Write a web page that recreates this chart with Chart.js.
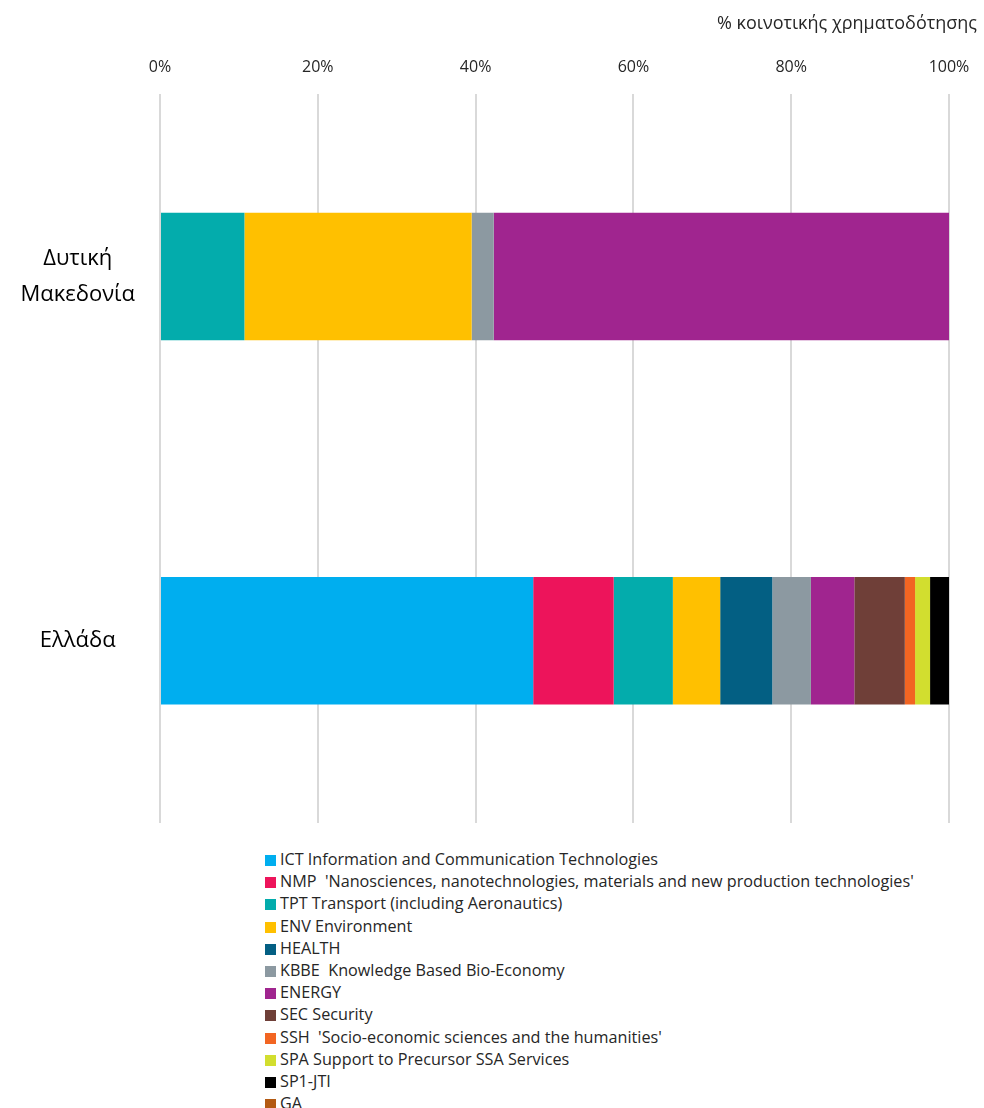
<!DOCTYPE html>
<html>
<head>
<meta charset="utf-8">
<script src="https://cdn.jsdelivr.net/npm/chart.js@4/dist/chart.umd.min.js"></script>
<style>
  html, body { margin: 0; padding: 0; background: #fff; }
  #wrap { position: relative; width: 984px; height: 1108px; font-family: 'Open Sans', sans-serif; }
  #chartBox { position: absolute; left: 0; top: 0; width: 984px; height: 840px; }
  #legend { position: absolute; left: 265px; top: 848px; font-size: 16.2px; color: #262626; }
  #legend .row { height: 22.2px; line-height: 22.2px; white-space: pre; }
  #legend .sw { display: inline-block; width: 11px; height: 11px; margin-right: 4px; vertical-align: -1px; }
</style>
</head>
<body>
<div id="wrap">
  <div id="chartBox"><canvas id="myChart" width="984" height="840"></canvas></div>
  <div id="legend"></div>
</div>
<script>
// regions (y axis)
const regiones = [['Δυτική', 'Μακεδονία'], 'Ελλάδα'];

// thematic areas (series)
const tematicas = [
    'ICT Information and Communication Technologies',
    "NMP  'Nanosciences, nanotechnologies, materials and new production technologies'",
    'TPT Transport (including Aeronautics)',
    'ENV Environment',
    'HEALTH',
    'KBBE  Knowledge Based Bio-Economy',
    'ENERGY',
    'SEC Security',
    "SSH  'Socio-economic sciences and the humanities'",
    'SPA Support to Precursor SSA Services',
    'SP1-JTI',
    'GA'
];

const colores = ['#00AEEF', '#ED145B', '#03ACAC', '#FFC000', '#035F83', '#8C99A1',
                 '#A0258F', '#6F3F38', '#F26522', '#D2DE2F', '#000000', '#B35A13'];

// % share of funding, [Δυτική Μακεδονία, Ελλάδα]
const ICT     = [0,    47.3];
const NMP     = [0,    10.2];
const TPT     = [10.7,  7.5];
const ENV     = [28.8,  6.0];
const HEALTH  = [0,     6.6];
const KBBE    = [2.8,   4.9];
const ENERGY  = [57.7,  5.5];
const SEC     = [0,     6.4];
const SSH     = [0,     1.3];
const SPA     = [0,     1.9];
const SP1JTI  = [0,     2.4];
const GA      = [0,     0.05];

const valores = [ICT, NMP, TPT, ENV, HEALTH, KBBE, ENERGY, SEC, SSH, SPA, SP1JTI, GA];

const xTicks = [0, 20, 40, 60, 80, 100];
const tituloEje = '% κοινοτικής χρηματοδότησης';

const tituloPlugin = {
    id: 'tituloEje',
    afterDraw(chart) {
        const ctx = chart.ctx;
        ctx.save();
        ctx.font = '18px "Open Sans"';
        ctx.fillStyle = '#262626';
        ctx.textAlign = 'right';
        ctx.textBaseline = 'middle';
        ctx.fillText(tituloEje, 977, 24);
        ctx.restore();
    }
};

const datasets = tematicas.map((t, i) => ({
    label: t,
    data: valores[i],
    backgroundColor: colores[i],
    borderWidth: 0,
    barPercentage: 0.35,
    categoryPercentage: 1
}));

const ctx = document.getElementById('myChart').getContext('2d');
new Chart(ctx, {
    type: 'bar',
    data: { labels: regiones, datasets: datasets },
    options: {
        indexAxis: 'y',
        responsive: false,
        animation: false,
        layout: { padding: { top: 41, right: 35, bottom: 17, left: 0 } },
        plugins: {
            legend: { display: false },
            tooltip: { enabled: false }
        },
        scales: {
            x: {
                position: 'top',
                stacked: true,
                min: 0,
                max: 100,
                afterBuildTicks: axis => { axis.ticks = xTicks.map(v => ({ value: v })); },
                afterFit: axis => {
                    axis.paddingLeft = 0;
                    axis.paddingRight = 0;
                },
                ticks: {
                    callback: v => v + '%',
                    font: { family: 'Open Sans', size: 16 },
                    color: '#262626',
                    padding: 17
                },
                grid: { color: '#D9D9D9', lineWidth: 2, drawTicks: false },
                border: { display: false }
            },
            y: {
                stacked: true,
                afterFit: axis => {
                    axis.width = 160;
                    axis.paddingTop = 0;
                    axis.paddingBottom = 0;
                },
                ticks: {
                    crossAlign: 'center',
                    padding: 25,
                    font: { family: 'Open Sans', size: 22, lineHeight: 1.65 },
                    color: '#000000'
                },
                grid: { display: false, drawTicks: false },
                border: { display: false }
            }
        }
    },
    plugins: [tituloPlugin]
});

// legend as a single column, built from the same arrays
const leg = document.getElementById('legend');
tematicas.forEach((t, i) => {
    const row = document.createElement('div');
    row.className = 'row';
    const sw = document.createElement('span');
    sw.className = 'sw';
    sw.style.background = colores[i];
    row.appendChild(sw);
    row.appendChild(document.createTextNode(t));
    leg.appendChild(row);
});
</script>
</body>
</html>
